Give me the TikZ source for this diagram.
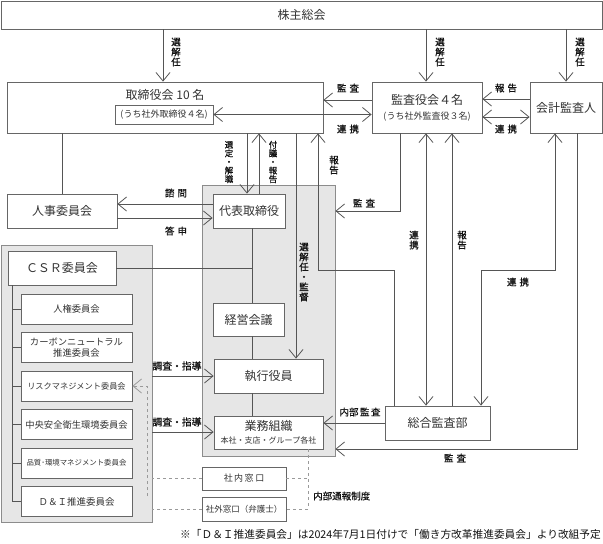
\documentclass[tikz,border=0pt]{standalone}
\usepackage{fontspec}
\setmainfont{Noto Sans CJK JP}
\newfontfamily\labfont{Noto Sans CJK JP}[FakeBold=0.7]
\usetikzlibrary{arrows.meta,calc}
\definecolor{lncol}{HTML}{555555}
\definecolor{bxcol}{HTML}{666666}
\definecolor{rgfill}{HTML}{E6E6E6}
\definecolor{rgline}{HTML}{8C8C8C}
\definecolor{dshcol}{HTML}{9A9A9A}
\definecolor{txcol}{HTML}{111111}
\definecolor{bxtx}{HTML}{333333}
\begin{document}
\begin{tikzpicture}[x=1pt,y=-1pt,
  box/.style={draw=bxcol, line width=0.8pt, fill=white, inner sep=0pt, text=bxtx, font=\fontsize{12}{14}\selectfont, align=center},
  region/.style={draw=rgline, line width=0.8pt, fill=rgfill, inner sep=0pt},
  subbox/.style={box, minimum width=111pt, minimum height=30pt, font=\fontsize{9.3}{11.5}\selectfont},
  conn/.style={draw=lncol, line width=0.8pt},
  tip/.style={-{Straight Barb[length=8.5pt,width=14pt]}},
  arr/.style={conn, -{Straight Barb[length=8.5pt,width=14pt]}},
  arrb/.style={conn, {Straight Barb[length=8.5pt,width=14pt]}-{Straight Barb[length=8.5pt,width=14pt]}},
  btext/.style={text=bxtx, inner sep=0pt},
  lab/.style={text=txcol, font=\labfont\fontsize{9.5}{10}\selectfont, inner sep=0pt},
  vlab/.style={lab, align=center, font=\labfont\fontsize{9.5}{10}\selectfont},
  vlabs/.style={lab, align=center, font=\labfont\fontsize{8.5}{8.6}\selectfont},
  dsh/.style={draw=dshcol, line width=0.8pt, dash pattern=on 3pt off 3pt},
]
\useasboundingbox (0,0) rectangle (603,544);

% columns and rows
\coordinate (c12) at (12,0);
\coordinate (c163) at (163,0);
\coordinate (c247) at (247,0);
\coordinate (c252) at (252,0);
\coordinate (c259) at (259,0);
\coordinate (c296) at (296,0);
\coordinate (c308) at (308,0);
\coordinate (c318) at (318,0);
\coordinate (c394) at (394,0);
\coordinate (c400) at (400,0);
\coordinate (c426) at (426,0);
\coordinate (c452) at (452,0);
\coordinate (c481) at (481,0);
\coordinate (c555) at (555,0);
\coordinate (c577) at (577,0);
\coordinate (r99) at (0,99);
\coordinate (r100) at (0,100);
\coordinate (r117) at (0,117);
\coordinate (r204) at (0,204);
\coordinate (r211) at (0,211);
\coordinate (r218) at (0,218);
\coordinate (r270) at (0,270);
\coordinate (r432) at (0,432);
\coordinate (r449) at (0,449);

% regions
\node[region, minimum width=133pt, minimum height=271pt] (ex) at (268.5,320.5) {};
\node[region, minimum width=151pt, minimum height=277pt] (csrreg) at (76.5,383.5) {};

% boxes
\node[box, minimum width=601pt, minimum height=28pt] (sh) at (301.5,15) {株主総会};
\node[box, minimum width=316pt, minimum height=51pt] (tb) at (165,107.5) {};
\node[btext, font=\fontsize{12}{14}\selectfont] at (165,95) {取締役会 10 名};
\node[box, minimum width=98pt, minimum height=19pt, font=\fontsize{9}{10}\selectfont] (tbin) at (164,114.5) {(うち社外取締役４名)};
\node[box, minimum width=110pt, minimum height=51pt] (ka) at (427,107.5) {};
\node[btext, font=\fontsize{12}{14}\selectfont] at (427,100) {監査役会４名};
\node[btext, font=\fontsize{9}{10}\selectfont] at (427,116.5) {(うち社外監査役３名)};
\node[box, minimum width=72pt, minimum height=51pt] (kk) at (566,107.5) {会計監査人};
\node[box, minimum width=110pt, minimum height=34pt] (ji) at (62,211) {人事委員会};
\node[box, minimum width=72pt, minimum height=34pt] (dh) at (249,211) {代表取締役};
\node[box, minimum width=71pt, minimum height=33pt] (kei) at (248.5,319.5) {経営会議};
\node[box, minimum width=109pt, minimum height=34pt] (sy) at (268.5,376) {執行役員};
\node[box, minimum width=109pt, minimum height=33pt] (gs) at (268.5,432.5) {};
\node[btext, font=\fontsize{12}{14}\selectfont] at (268.5,426) {業務組織};
\node[btext, font=\fontsize{8}{9}\selectfont] at (268.5,440) {本社・支店・グループ各社};
\node[box, minimum width=105pt, minimum height=34pt] (sg) at (437.5,423) {総合監査部};
\node[box, minimum width=108pt, minimum height=34pt] (csr) at (62,268) {ＣＳＲ委員会};
\node[subbox] (s1) at (76.5,309) {人権委員会};
\node[subbox] (s2) at (76.5,347.5) {カーボンニュートラル\\推進委員会};
\node[subbox, font=\fontsize{8.2}{10}\selectfont] (s3) at (76.5,386) {リスクマネジメント委員会};
\node[subbox] (s4) at (76.5,424.5) {中央安全衛生環境委員会};
\node[subbox, font=\fontsize{7.4}{9}\selectfont] (s5) at (76.5,463) {品質･環境マネジメント委員会};
\node[subbox, font=\fontsize{9.5}{11}\selectfont] (s6) at (76.5,501.5) {Ｄ＆Ｉ推進委員会};
\node[box, minimum width=84pt, minimum height=23pt, font=\fontsize{9}{10}\selectfont] (snm) at (244,478.5) {社\,内\,窓\,口};
\node[box, minimum width=84pt, minimum height=24pt, font=\fontsize{8.5}{10}\selectfont] (sgm) at (244,509) {社外窓口（弁護士）};

% top connectors
\draw[arr] (sh.south -| c163) -- (tb.north -| c163);
\draw[arr] (sh.south -| c426) -- (ka.north -| c426);
\draw[arr] (sh.south -| kk.north) -- (kk.north);
\node[vlab] at (176,52) {選\\解\\任};
\node[vlab] at (440,52) {選\\解\\任};
\node[vlab] at (580,52) {選\\解\\任};

% board - auditors
\draw[arr] (ka.west |- r100) -- (tb.east |- r100);
\draw[arrb] (tbin.east) -- (ka.west |- tbin.east);
\draw[arr] (kk.west |- r99) -- (ka.east |- r99);
\draw[arrb] (ka.east |- r117) -- (kk.west |- r117);
\node[lab] at (348,88) {監\hspace{3pt}査};
\node[lab] at (348,129) {連\hspace{3pt}携};
\node[lab] at (506,88) {報\hspace{3pt}告};
\node[lab] at (506,129) {連\hspace{3pt}携};

% board downwards
\draw[conn] (tb.south -| ji.north) -- (ji.north);
\draw[arr] (tb.south -| c247) -- (dh.north -| c247);
\draw[arr] (dh.north -| c259) -- (tb.south -| c259);
\draw[arr] (tb.south -| c296) -- (sy.north -| c296);
\draw[arr] (sg.north -| c394) |- (r270 -| c318) -- (tb.south -| c318);
\node[vlabs] at (229,162) {選\\定\\・\\解\\職};
\node[vlabs] at (273,162) {付\\議\\・\\報\\告};
\node[vlab] at (304,272) {選\\解\\任\\・\\監\\督};
\node[vlab] at (334,165) {報\\告};

% auditors downwards
\draw[arr] (ka.south -| c400) |- (ex.east |- r211);
\draw[arrb] (ka.south -| c426) -- (sg.north -| c426);
\draw[arr] (sg.north -| c452) -- (ka.south -| c452);
\draw[arrb] (kk.south -| c555) |- (r270 -| c481) -- (sg.north -| c481);
\draw[arr] (kk.south -| c577) |- (ex.east |- r449);
\draw[arr] (sg.west) -- (gs.east |- sg.west);
\node[lab] at (364,203) {監\hspace{3pt}査};
\node[vlab] at (414,240) {連\\携};
\node[vlab] at (462,240) {報\\告};
\node[lab] at (518,282) {連\hspace{3pt}携};
\node[lab] at (455,458) {監\hspace{3pt}査};
\node[lab] at (360,412) {内部\hspace{1.5pt}監\hspace{1.5pt}査};

% personnel committee
\draw[arr] (dh.west |- r204) -- (ji.east |- r204);
\draw[arr] (ji.east |- r218) -- (dh.west |- r218);
\node[lab] at (176,193) {諮\hspace{3pt}問};
\node[lab] at (176,231) {答\hspace{3pt}申};

% executive spine
\draw[conn] (dh.south -| c252) -- (kei.north -| c252);
\draw[conn] (kei.south -| c252) -- (sy.north -| c252);
\draw[conn] (sy.south -| c252) -- (gs.north -| c252);
\draw[conn] (csr.east) -- (csr.east -| c252);

% CSR guidance
\draw[arr] (csrreg.east |- sy.west) -- (sy.west);
\draw[arr] (csrreg.east |- r432) -- (gs.west |- r432);
\node[lab, font=\labfont\fontsize{9.8}{10}\selectfont] at (177,366) {調査・指導};
\node[lab, font=\labfont\fontsize{9.8}{10}\selectfont] at (177,422) {調査・指導};

% CSR tree
\draw[conn] (csr.south -| c12) -- (s6.west -| c12);
\foreach \s in {s1,s2,s3,s4,s5,s6} \draw[conn] (\s.west -| c12) -- (\s.west);

% whistleblowing (dashed)
\coordinate (dend) at (147,496);
\draw[dsh] (snm.west) -- (csrreg.east |- snm.west);
\draw[dsh] (sgm.west) -- (csrreg.east |- sgm.west);
\draw[dsh, tip] (dend) -- (dend |- s3.east) -- (s3.east);
\draw[dsh] (gs.south -| c308) |- (sgm.east);
\draw[dsh] (snm.east) -- (snm.east -| c308);
\node[lab, anchor=west] at (313,496) {内部通報制度};

% footnote
\node[text=txcol, inner sep=0pt, font=\fontsize{10.7}{12}\selectfont, anchor=east] at (601,534) {※「Ｄ＆Ｉ推進委員会」は2024年7月1日付けで「働き方改革推進委員会」より改組予定};
\end{tikzpicture}
\end{document}
